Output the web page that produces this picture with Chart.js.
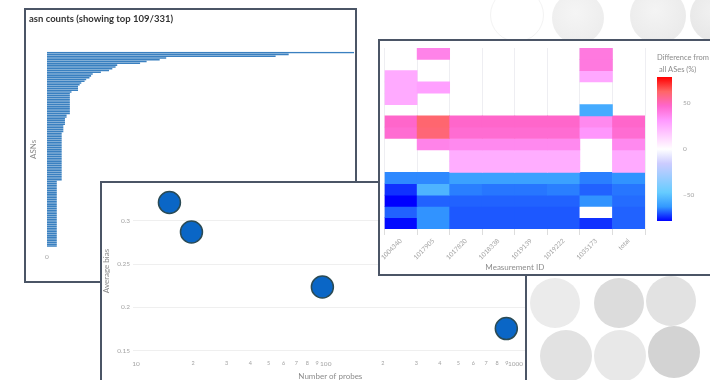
<!DOCTYPE html>
<html>
<head>
<meta charset="utf-8">
<script src="https://cdn.jsdelivr.net/npm/chart.js@4.4.1/dist/chart.umd.min.js"></script>
<style>
  html, body { margin: 0; padding: 0; }
  body { width: 710px; height: 380px; overflow: hidden; position: relative; background: #fff; font-family: Lato, sans-serif; }
  .blob { position: absolute; border-radius: 50%; }
  .panel { position: absolute; background: #fff; border: 2px solid #4b5566; box-sizing: border-box; overflow: hidden; }
  .panel canvas { position: absolute; }
</style>
</head>
<body>

<!-- soft grey backdrop discs -->
<div class="blob" style="left:552px;top:-8px;width:52px;height:52px;background:radial-gradient(circle at 45% 40%,#f5f5f5,#eaeaea);"></div>
<div class="blob" style="left:630px;top:-12px;width:56px;height:56px;background:radial-gradient(circle at 45% 40%,#f4f4f4,#e7e7e7);"></div>
<div class="blob" style="left:690px;top:-10px;width:52px;height:52px;background:radial-gradient(circle at 45% 40%,#f1f1f1,#e3e3e3);"></div>
<div class="blob" style="left:490px;top:-12px;width:54px;height:54px;border:1px solid #f3f3f3;box-sizing:border-box;"></div>
<div class="blob" style="left:530px;top:278px;width:50px;height:50px;background:#ebebeb;"></div>
<div class="blob" style="left:594px;top:278px;width:50px;height:50px;background:#dcdcdc;"></div>
<div class="blob" style="left:646px;top:276px;width:50px;height:50px;background:#e2e2e2;"></div>
<div class="blob" style="left:540px;top:330px;width:52px;height:52px;background:#e2e2e2;"></div>
<div class="blob" style="left:594px;top:330px;width:52px;height:52px;background:#e8e8e8;"></div>
<div class="blob" style="left:648px;top:326px;width:52px;height:52px;background:#d3d3d3;"></div>

<div class="panel" style="left:24px;top:8px;width:333px;height:275px;">
  <canvas id="asnChart" width="329" height="271" style="left:0;top:0;"></canvas>
</div>

<div class="panel" style="left:100px;top:181px;width:427px;height:220px;">
  <canvas id="biasChart" width="429" height="197" style="left:0;top:0;"></canvas>
</div>

<div class="panel" style="left:378px;top:39px;width:345px;height:237px;">
  <canvas id="heatChart" width="330" height="233" style="left:0;top:0;"></canvas>
  <canvas id="scaleChart" width="62" height="178" style="left:268px;top:9px;"></canvas>
</div>

<script>
// ---- ASN probe counts, top 109 of 331 ASNs ----
const asnCounts = [
  188, 148, 140, 73, 69, 61, 57, 43, 42, 40,
  38, 33, 28, 27, 26, 24, 23, 21, 20, 19,
  19, 19, 15, 14, 14, 14, 14, 14, 14, 14,
  14, 14, 14, 14, 14, 12, 12, 11, 11, 11,
  11, 10, 10, 10, 10, 9, 9, 9, 9, 9,
  9, 9, 9, 9, 9, 9, 9, 9, 9, 9,
  9, 9, 9, 9, 9, 9, 9, 9, 9, 9,
  9, 9, 6, 6, 6, 6, 6, 6, 6, 6,
  6, 6, 6, 6, 6, 6, 6, 6, 6, 6,
  6, 6, 6, 6, 6, 6, 6, 6, 6, 6,
  6, 6, 6, 6, 6, 6, 6, 6, 6
];
const asnLabels = asnCounts.map((_, i) => 'ASN #' + (i + 1));
const asnTicks = [0, 50, 100, 150];

// ---- average bias vs number of probes ----
const probeCounts = [15, 19.6, 96, 895];
const averageBias = [0.321, 0.287, 0.2235, 0.1755];
const probeTicks = [10, 20, 30, 40, 50, 60, 70, 80, 90, 100, 200, 300, 400, 500, 600, 700, 800, 900, 1000];
const probeTickLabels = ['10', '2', '3', '4', '5', '6', '7', '8', '9', '100', '2', '3', '4', '5', '6', '7', '8', '9', '1000'];
const biasTicks = [0.15, 0.2, 0.25, 0.3];
const biasTickLabels = ['0.15', '0.2', '0.25', '0.3'];

// ---- difference from all ASes (%), rows top to bottom, one value per measurement ----
const measurementIds = ['1004340', '1017905', '1017820', '1018338', '1019139', '1019222', '1035173', 'total'];
const heatRows = [
  [null, 38, null, null, null, null, 41, null],
  [null, null, null, null, null, null, 41, null],
  [26, null, null, null, null, null, 27, null],
  [26, 29, null, null, null, null, null, null],
  [26, null, null, null, null, null, null, null],
  [null, null, null, null, null, null, -57, null],
  [47, 61, 47, 47, 47, 47, 36, 47],
  [45, 60, 45, 45, 45, 45, 32, 45],
  [null, 38, 36, 36, 36, 36, null, 36],
  [null, null, 25, 25, 25, 25, null, 26],
  [null, null, 25, 25, 25, 25, null, 26],
  [-64, -64, -60, -60, -60, -60, -65, -63],
  [-73, -54, -65, -66, -66, -65, -68, -66],
  [-78, -68, -68, -68, -68, -68, -63, -67],
  [-68, -63, -69, -69, -69, -69, 0, -68],
  [-77, -63, -69, -69, -69, -69, -73, -68]
];
const scaleTicks = [-50, 0, 50];
const scaleTickLabels = ['\u221250', '0', '50'];
const zMin = -78, zMax = 78;

// Picnic-style diverging colour scale
const colorStops = [
  [0.0, [0, 0, 255]], [0.1, [51, 153, 255]], [0.2, [102, 204, 255]], [0.3, [153, 204, 255]],
  [0.4, [204, 204, 255]], [0.5, [255, 255, 255]], [0.6, [255, 204, 255]], [0.7, [255, 153, 255]],
  [0.8, [255, 102, 204]], [0.9, [255, 102, 102]], [1.0, [255, 0, 0]]
];
function colorFor(v) {
  const t = Math.max(0, Math.min(1, (v - zMin) / (zMax - zMin)));
  for (let i = 1; i < colorStops.length; i++) {
    const [t1, c1] = colorStops[i];
    const [t0, c0] = colorStops[i - 1];
    if (t <= t1) {
      const f = (t - t0) / (t1 - t0);
      const c = c0.map((a, k) => Math.round(a + (c1[k] - a) * f));
      return 'rgb(' + c.join(',') + ')';
    }
  }
  return 'rgb(255,0,0)';
}

Chart.defaults.font.family = 'Lato, sans-serif';
Chart.defaults.animation = false;
Chart.defaults.responsive = false;
Chart.defaults.devicePixelRatio = 1;
Chart.defaults.plugins.legend.display = false;
Chart.defaults.plugins.tooltip.enabled = false;

const tickGrey = '#a3a3a3';
const titleGrey = '#8c8c8c';

// ---- horizontal bar chart of ASN counts ----
new Chart(document.getElementById('asnChart'), {
  type: 'bar',
  data: {
    labels: asnLabels,
    datasets: [{ data: asnCounts, backgroundColor: '#3a80c0', barPercentage: 0.86, categoryPercentage: 1 }]
  },
  options: {
    indexAxis: 'y',
    layout: { autoPadding: false, padding: { left: 3, right: 1, top: 0, bottom: 0 } },
    plugins: {
      title: {
        display: true, text: 'asn counts (showing top 109/331)', align: 'start', color: '#333',
        font: { size: 9.5, weight: 'bold', lineHeight: 1.2 }, padding: { top: 3.3, bottom: 27 }
      }
    },
    scales: {
      x: {
        min: 0, max: asnCounts[0],
        grid: { display: false, drawTicks: false }, border: { display: false },
        afterBuildTicks(a) { a.ticks = asnTicks.map(v => ({ value: v })); },
        ticks: { color: tickGrey, font: { size: 6.5 }, padding: 6.5, maxRotation: 0 },
        afterFit(a) { a.height = 34; }
      },
      y: {
        grid: { display: false }, border: { display: false },
        ticks: { display: false },
        title: { display: true, text: 'ASNs', color: titleGrey, font: { size: 8, lineHeight: 1 }, padding: 0 },
        afterFit(a) { a.width = 18; }
      }
    }
  }
});

// ---- scatter: average bias vs number of probes (log x) ----
new Chart(document.getElementById('biasChart'), {
  type: 'scatter',
  data: {
    datasets: [{
      data: probeCounts.map((x, i) => ({ x: x, y: averageBias[i] })),
      backgroundColor: '#0a66c6', borderColor: '#2b4b55', borderWidth: 1.5,
      pointRadius: 11
    }]
  },
  options: {
    layout: { autoPadding: false, padding: { left: 0, right: 0, top: 7, bottom: 0 } },
    scales: {
      x: {
        type: 'logarithmic', min: 9.64, max: 1160,
        grid: { display: false, drawTicks: false }, border: { display: false },
        afterBuildTicks(a) { a.ticks = probeTicks.map(v => ({ value: v })); },
        ticks: {
          autoSkip: false, maxRotation: 0, minRotation: 0, padding: 8, color: tickGrey,
          font: (c) => ({ size: (c.tick && [10, 100, 1000].includes(c.tick.value)) ? 6.5 : 5.5 }),
          callback: (v) => probeTickLabels[probeTicks.indexOf(v)]
        },
        title: { display: true, text: 'Number of probes', color: titleGrey, font: { size: 8, lineHeight: 1 }, padding: 0 },
        afterFit(a) { a.height = 28; }
      },
      y: {
        min: 0.1485, max: 0.3354,
        grid: { color: '#efefef', drawTicks: false }, border: { display: false },
        afterBuildTicks(a) { a.ticks = biasTicks.map(v => ({ value: v })); },
        ticks: {
          padding: 3, color: tickGrey, font: { size: 6.5 },
          callback: (v) => biasTickLabels[biasTicks.indexOf(v)]
        },
        title: { display: true, text: 'Average bias', color: titleGrey, font: { size: 8, lineHeight: 1 }, padding: 0 },
        afterFit(a) { a.width = 31; }
      }
    }
  }
});

// ---- heatmap: each row is a floating-bar dataset spanning [row, row + 1] ----
new Chart(document.getElementById('heatChart'), {
  type: 'bar',
  data: {
    labels: measurementIds,
    datasets: heatRows.map((row, r) => ({
      data: row.map(v => v === null ? null : [r, r + 1]),
      backgroundColor: row.map(v => v === null ? 'rgba(0,0,0,0)' : colorFor(v)),
      grouped: false, barPercentage: 1, categoryPercentage: 1, borderWidth: 0
    }))
  },
  options: {
    layout: { autoPadding: false, padding: { left: 3, right: 65, top: 7, bottom: 0 } },
    scales: {
      x: {
        grid: { color: '#eeeef2', tickColor: '#dddddd', tickLength: 6 }, border: { display: false },
        ticks: { autoSkip: false, minRotation: 45, maxRotation: 45, padding: 2, color: tickGrey, font: { size: 6.5 } },
        title: { display: true, text: 'Measurement ID', color: titleGrey, font: { size: 8, lineHeight: 1 }, padding: { top: 0, bottom: 3 } },
        afterFit(a) { a.height = 45; }
      },
      y: { type: 'linear', min: 0, max: heatRows.length, reverse: true, display: false }
    }
  }
});

// ---- colour bar for the heatmap ----
new Chart(document.getElementById('scaleChart'), {
  type: 'bar',
  data: {
    labels: [''],
    datasets: [{
      data: [[zMin, zMax]],
      barPercentage: 1, categoryPercentage: 1, borderWidth: 0,
      backgroundColor: (ctx) => {
        const chart = ctx.chart;
        if (!chart.chartArea) return '#fff';
        const y = chart.scales.y;
        const g = chart.ctx.createLinearGradient(0, y.getPixelForValue(zMin), 0, y.getPixelForValue(zMax));
        colorStops.forEach(([t, c]) => g.addColorStop(t, 'rgb(' + c.join(',') + ')'));
        return g;
      }
    }]
  },
  options: {
    layout: { autoPadding: false, padding: { left: 9, right: 0, top: 0, bottom: 5 } },
    plugins: {
      title: {
        display: true, text: ['Difference from', ' all ASes (%)'], align: 'start', color: titleGrey,
        font: { size: 7.5, weight: 'normal', lineHeight: 1.5 }, padding: { top: 2.4, bottom: 2.2 }
      }
    },
    scales: {
      x: { display: false },
      y: {
        position: 'right', min: zMin, max: zMax,
        grid: { display: false }, border: { display: false },
        afterBuildTicks(a) { a.ticks = scaleTicks.map(v => ({ value: v })); },
        ticks: { padding: 3, color: tickGrey, font: { size: 6.5 }, callback: (v) => scaleTickLabels[scaleTicks.indexOf(v)] },
        afterFit(a) { a.width = 38; }
      }
    }
  }
});
</script>
</body>
</html>
